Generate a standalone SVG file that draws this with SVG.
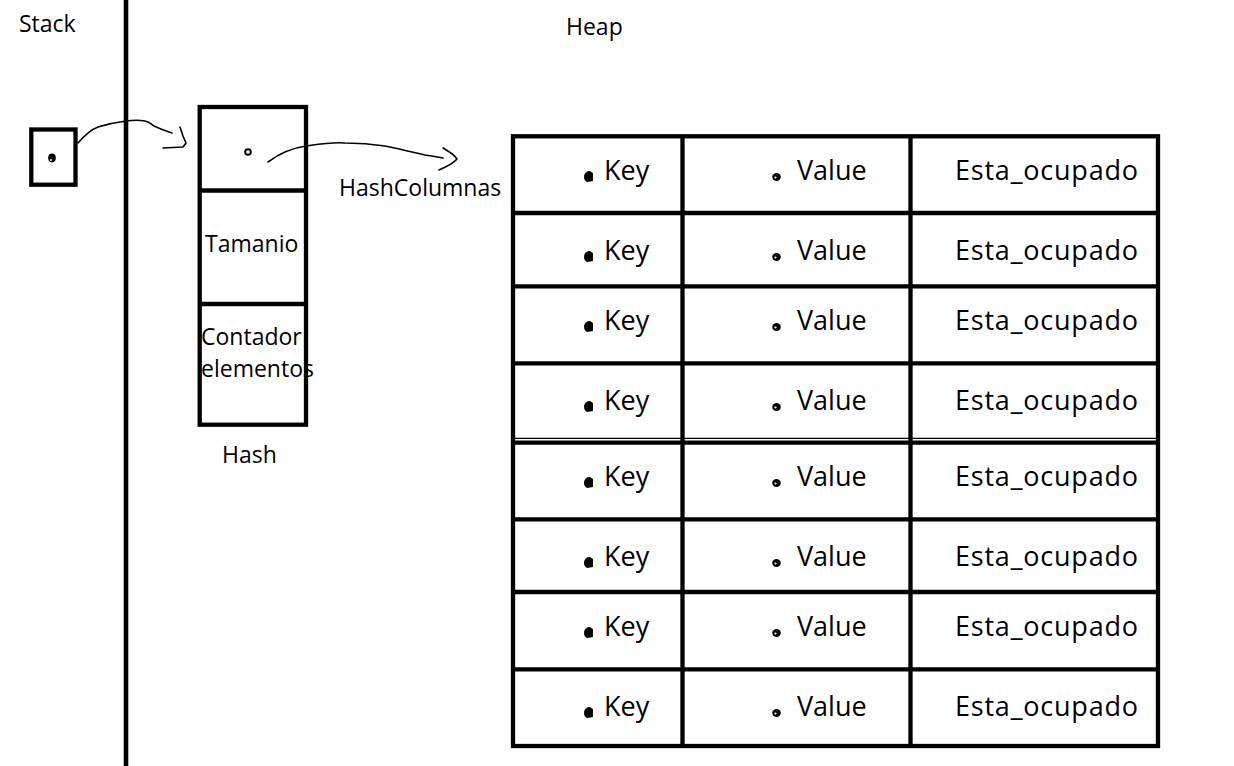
<svg xmlns="http://www.w3.org/2000/svg" width="1234" height="766" viewBox="0 0 1234 766">
<style>
.ln{stroke:#000;stroke-width:4.3;fill:none}
.thin{stroke:#000;stroke-width:1.3;fill:none}
.cv{stroke:#000;stroke-width:1.6;fill:none;stroke-linecap:round;stroke-linejoin:round}
.lbl{font-family:"Open Sans","Noto Sans",sans-serif;font-size:23px;fill:#000}
.cell{font-family:"Open Sans","Noto Sans",sans-serif;font-size:27px;fill:#000}
.dot{fill:#000}
</style>
<rect width="1234" height="766" fill="#fff"/>
<g id="divider">
<line x1="126" y1="0" x2="126" y2="766" stroke="#000" stroke-width="4.6"/>
</g>
<g id="stack-label"><text class="lbl" x="19" y="32">Stack</text></g>
<g id="heap-label"><text class="lbl" x="566" y="35">Heap</text></g>
<g id="stack-pointer">
<rect class="ln" x="31.3" y="129.5" width="44.2" height="55.2"/>
<ellipse class="dot" cx="52" cy="158" rx="3.8" ry="4.4"/>
<circle cx="51" cy="160" r="1" fill="#fff"/>
</g>
<g id="hash">
<rect class="ln" x="199.7" y="107" width="106.3" height="317.7"/>
<line class="ln" x1="199.7" y1="190.5" x2="306" y2="190.5"/>
<line class="ln" x1="199.7" y1="304" x2="306" y2="304"/>
<circle cx="248" cy="152" r="2.8" fill="none" stroke="#000" stroke-width="2"/>
<text class="lbl" x="205" y="252">Tamanio</text>
<text class="lbl" x="201" y="345">Contador</text>
<text class="lbl" x="201" y="377">elementos</text>
<text class="lbl" x="222" y="463">Hash</text>
</g>
<g id="hashcolumnas-label"><text class="lbl" x="339" y="196">HashColumnas</text></g>
<g id="connectors">
<path class="cv" d="M78,143 C84,136 90,130 98,127 C108,124 118,122 126,121 C133,120 140,120 145,121 C150,122 151,124 154,126 C160,129 166,131 172,133"/>
<path class="cv" d="M180,127 L183,136 L186,143 L183,147 L163,148"/>
<path class="cv" d="M268,162 C280,153 292,148 306,146 C320,144 332,142 345,143 C360,143 372,144 385,146 C400,149 412,152 425,155 C432,156 438,157 443,158"/>
<path class="cv" d="M443,148 C448,151 454,154 457,159 C453,164 446,167 439,170"/>
</g>
<g id="table">
<rect class="ln" x="513" y="136.3" width="645" height="609.7"/>
<line class="ln" x1="682.5" y1="136.3" x2="682.5" y2="746"/>
<line class="ln" x1="910.5" y1="136.3" x2="910.5" y2="746"/>
<line class="ln" x1="513" y1="213" x2="1158" y2="213"/>
<line class="ln" x1="513" y1="286.3" x2="1158" y2="286.3"/>
<line class="ln" x1="513" y1="363.3" x2="1158" y2="363.3"/>
<line class="thin" x1="513" y1="438.3" x2="1158" y2="438.3"/>
<line class="ln" x1="513" y1="442.6" x2="1158" y2="442.6"/>
<line class="ln" x1="513" y1="519.3" x2="1158" y2="519.3"/>
<line class="ln" x1="513" y1="592" x2="1158" y2="592"/>
<line class="ln" x1="513" y1="669.3" x2="1158" y2="669.3"/>
</g>
<g id="row1"><path class="dot" d="M584,177 C584,172 588,171 590,171 L593,173 L593,181 L587,182 C585,181 584,179 584,177 Z"/><ellipse cx="776.5" cy="177" rx="4.3" ry="4" fill="#000"/><circle cx="775.5" cy="177.5" r="1.1" fill="#fff"/><text class="cell" x="604" y="180">Key</text><text class="cell" x="797" y="180">Value</text><text class="cell" x="955" y="180" textLength="183" lengthAdjust="spacing">Esta_ocupado</text></g>
<g id="row2" transform="translate(0,80)"><path class="dot" d="M584,177 C584,172 588,171 590,171 L593,173 L593,181 L587,182 C585,181 584,179 584,177 Z"/><ellipse cx="776.5" cy="177" rx="4.3" ry="4" fill="#000"/><circle cx="775.5" cy="177.5" r="1.1" fill="#fff"/><text class="cell" x="604" y="180">Key</text><text class="cell" x="797" y="180">Value</text><text class="cell" x="955" y="180" textLength="183" lengthAdjust="spacing">Esta_ocupado</text></g>
<g id="row3" transform="translate(0,150)"><path class="dot" d="M584,177 C584,172 588,171 590,171 L593,173 L593,181 L587,182 C585,181 584,179 584,177 Z"/><ellipse cx="776.5" cy="177" rx="4.3" ry="4" fill="#000"/><circle cx="775.5" cy="177.5" r="1.1" fill="#fff"/><text class="cell" x="604" y="180">Key</text><text class="cell" x="797" y="180">Value</text><text class="cell" x="955" y="180" textLength="183" lengthAdjust="spacing">Esta_ocupado</text></g>
<g id="row4" transform="translate(0,230)"><path class="dot" d="M584,177 C584,172 588,171 590,171 L593,173 L593,181 L587,182 C585,181 584,179 584,177 Z"/><ellipse cx="776.5" cy="177" rx="4.3" ry="4" fill="#000"/><circle cx="775.5" cy="177.5" r="1.1" fill="#fff"/><text class="cell" x="604" y="180">Key</text><text class="cell" x="797" y="180">Value</text><text class="cell" x="955" y="180" textLength="183" lengthAdjust="spacing">Esta_ocupado</text></g>
<g id="row5" transform="translate(0,306)"><path class="dot" d="M584,177 C584,172 588,171 590,171 L593,173 L593,181 L587,182 C585,181 584,179 584,177 Z"/><ellipse cx="776.5" cy="177" rx="4.3" ry="4" fill="#000"/><circle cx="775.5" cy="177.5" r="1.1" fill="#fff"/><text class="cell" x="604" y="180">Key</text><text class="cell" x="797" y="180">Value</text><text class="cell" x="955" y="180" textLength="183" lengthAdjust="spacing">Esta_ocupado</text></g>
<g id="row6" transform="translate(0,386)"><path class="dot" d="M584,177 C584,172 588,171 590,171 L593,173 L593,181 L587,182 C585,181 584,179 584,177 Z"/><ellipse cx="776.5" cy="177" rx="4.3" ry="4" fill="#000"/><circle cx="775.5" cy="177.5" r="1.1" fill="#fff"/><text class="cell" x="604" y="180">Key</text><text class="cell" x="797" y="180">Value</text><text class="cell" x="955" y="180" textLength="183" lengthAdjust="spacing">Esta_ocupado</text></g>
<g id="row7" transform="translate(0,456)"><path class="dot" d="M584,177 C584,172 588,171 590,171 L593,173 L593,181 L587,182 C585,181 584,179 584,177 Z"/><ellipse cx="776.5" cy="177" rx="4.3" ry="4" fill="#000"/><circle cx="775.5" cy="177.5" r="1.1" fill="#fff"/><text class="cell" x="604" y="180">Key</text><text class="cell" x="797" y="180">Value</text><text class="cell" x="955" y="180" textLength="183" lengthAdjust="spacing">Esta_ocupado</text></g>
<g id="row8" transform="translate(0,536)"><path class="dot" d="M584,177 C584,172 588,171 590,171 L593,173 L593,181 L587,182 C585,181 584,179 584,177 Z"/><ellipse cx="776.5" cy="177" rx="4.3" ry="4" fill="#000"/><circle cx="775.5" cy="177.5" r="1.1" fill="#fff"/><text class="cell" x="604" y="180">Key</text><text class="cell" x="797" y="180">Value</text><text class="cell" x="955" y="180" textLength="183" lengthAdjust="spacing">Esta_ocupado</text></g>
</svg>
